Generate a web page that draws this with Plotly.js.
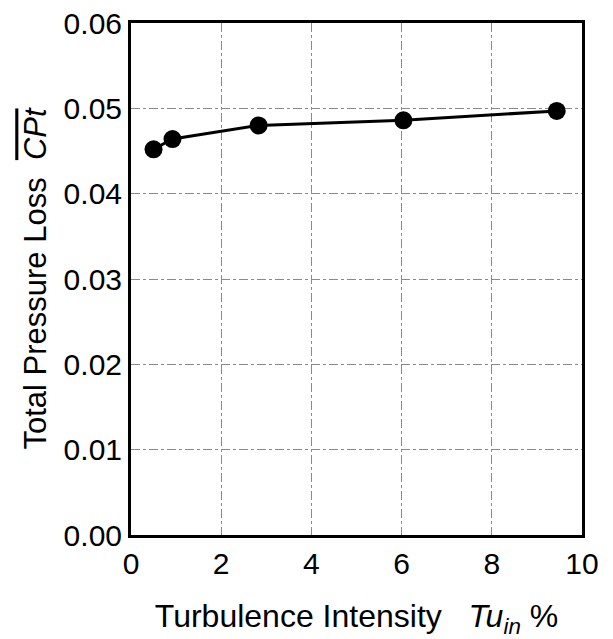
<!DOCTYPE html>
<html>
<head>
<meta charset="utf-8">
<script src="https://cdn.plot.ly/plotly-3.0.1.min.js"></script>
<style>html,body{margin:0;padding:0;background:#fff;}</style>
</head>
<body>
<div id="chart" style="width:613px;height:639px;"></div>
<script>
const turbulenceIntensity = [0.5, 0.92, 2.83, 6.04, 9.44];
const totalPressureLoss = [0.0452, 0.0464, 0.0480, 0.0486, 0.0497];
const xTickVals = [0, 2, 4, 6, 8, 10];
const yTickVals = [0, 0.01, 0.02, 0.03, 0.04, 0.05, 0.06];
const yTickText = ['0.00', '0.01', '0.02', '0.03', '0.04', '0.05', '0.06'];

const trace = {
  x: turbulenceIntensity,
  y: totalPressureLoss,
  mode: 'lines+markers',
  type: 'scatter',
  line: {color: '#000', width: 3},
  marker: {color: '#000', size: 18},
  showlegend: false
};

const layout = {
  width: 613,
  height: 639,
  margin: {l: 131, r: 31, t: 23, b: 104},
  paper_bgcolor: '#fff',
  plot_bgcolor: '#fff',
  font: {family: 'Liberation Sans, Arial, sans-serif', color: '#000', size: 29},
  xaxis: {
    range: [0, 10],
    tickvals: xTickVals,
    ticks: '',
    showgrid: true,
    gridcolor: '#8a8a8a',
    gridwidth: 1,
    griddash: 'dashdot',
    showline: true,
    linecolor: '#000',
    linewidth: 3,
    mirror: true,
    zeroline: false,
    tickfont: {size: 30},
    title: {text: 'Turbulence Intensity   <i>Tu</i><sub><i>in</i></sub> %', font: {size: 32}, standoff: 27}
  },
  yaxis: {
    range: [0, 0.06],
    tickvals: yTickVals,
    ticktext: yTickText,
    ticks: '',
    showgrid: true,
    gridcolor: '#8a8a8a',
    gridwidth: 1,
    griddash: 'dashdot',
    showline: true,
    linecolor: '#000',
    linewidth: 3,
    mirror: true,
    zeroline: false,
    tickfont: {size: 30},
    title: {text: 'Total Pressure Loss  <span style="text-decoration:overline"><i>CPt</i></span>', font: {size: 31}, standoff: 8}
  }
};

Plotly.newPlot('chart', [trace], layout, {displayModeBar: false, staticPlot: true});
</script>
</body>
</html>
